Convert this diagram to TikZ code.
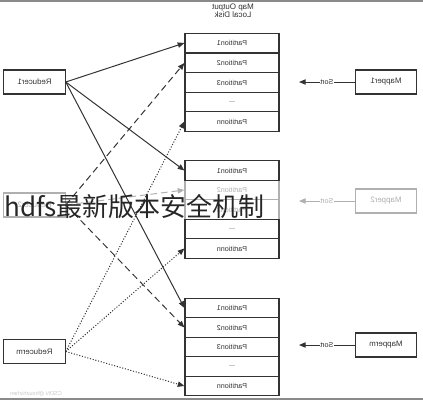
\documentclass[tikz,border=0pt]{standalone}
\usepackage{fontspec}
\setmainfont{Liberation Sans}
\newfontfamily\cjk{Noto Sans CJK SC}
\usepackage{graphicx}
\usetikzlibrary{arrows.meta}
\newcommand\mir[1]{\scalebox{-1}[1]{#1}}
\definecolor{ink}{HTML}{333333}
\definecolor{faint}{HTML}{B0B0B0}
\definecolor{rule}{HTML}{8A8A8A}
\begin{document}
\begin{tikzpicture}[x=0.75pt,y=-0.75pt,
  part/.style={draw=ink,line width=0.9pt,minimum width=70.5pt,minimum height=14.7pt,inner sep=0pt,font=\fontsize{5.4}{6}\selectfont,text=ink},
  gpart/.style={part,draw=faint,text=faint},
  box/.style={draw=ink,line width=0.9pt,minimum width=46pt,minimum height=18pt,inner sep=0pt,font=\fontsize{5.9}{6}\selectfont,text=ink},
  gbox/.style={box,draw=faint,text=faint},
  conn/.style={ink,line width=0.75pt,-{Triangle[length=5pt,width=4pt]}},
  dsh/.style={conn,dash pattern=on 5pt off 3pt},
  dot/.style={conn,dash pattern=on 0.8pt off 1.3pt},
  sortl/.style={fill=white,inner sep=0.5pt,font=\fontsize{5.4}{6}\selectfont}
]
\useasboundingbox (0,0) rectangle (423,400);
\draw[rule,line width=1.2pt] (0,1) -- (423,1);
\draw[rule,line width=1.2pt] (0,399) -- (423,399);

\node[font=\fontsize{6}{6}\selectfont,text=ink,align=center] (title) at (233,11) {\mir{Map Output}\\[0pt]\mir{Local Disk}};

% stack 1
\node[part] (a1) at (232,43) {\mir{Partition1}};
\node[part] (a2) at (232,63) {\mir{Partition2}};
\node[part] (a3) at (232,82.5) {\mir{Partition3}};
\node[part] (a4) at (232,102) {\mir{...}};
\node[part] (a5) at (232,121.5) {\mir{Partitionn}};
% stack 2
\node[gpart] (b2) at (232,190) {\mir{Partition2}};
\node[gpart] (b3) at (232,209.5) {\mir{Partition3}};
\node[part] (b1) at (232,170.5) {\mir{Partition1}};
\node[part] (b4) at (232,229) {\mir{...}};
\node[part] (b5) at (232,248.5) {\mir{Partitionn}};
% stack 3
\node[part] (c1) at (232,308) {\mir{Partition1}};
\node[part] (c2) at (232,327.5) {\mir{Partition2}};
\node[part] (c3) at (232,347) {\mir{Partition3}};
\node[part] (c4) at (232,366.5) {\mir{...}};
\node[part] (c5) at (232,386) {\mir{Partitionn}};

% reducers
\node[box] (r1) at (34.5,82) {\mir{Reducer1}};
\node[gbox] (r2) at (34.5,205) {\mir{Reducer2}};
\node[box] (rm) at (34.5,351.5) {\mir{Reducerm}};

% mappers
\node[box] (m1) at (386,82) {\mir{Mapper1}};
\node[gbox] (m2) at (386,201) {\mir{Mapper2}};
\node[box] (mm) at (386,345) {\mir{Mapperm}};

% sort arrows
\coordinate (s1) at (299,82);
\coordinate (s2) at (299,201);
\coordinate (sm) at (299,345);
\draw[conn] (m1.west) -- node[sortl,text=ink]{\mir{Sort}} (s1);
\draw[conn,faint] (m2.west) -- node[sortl,text=faint]{\mir{Sort}} (s2);
\draw[conn] (mm.west) -- node[sortl,text=ink]{\mir{Sort}} (sm);

% reducer1 solid
\draw[conn] (r1.east) -- (a1.west);
\draw[conn] (r1.east) -- (b1.west);
\draw[conn] (r1.east) -- (c1.west);
% reducer2 dashed
\draw[dsh] (r2.east) -- (a2.west);
\draw[dsh,faint] (r2.east) -- (b2.west);
\draw[dsh] (r2.east) -- (c2.west);
% reducerm dotted
\draw[dot] (rm.east) -- (a5.west);
\draw[dot] (rm.east) -- (b5.west);
\draw[dot] (rm.east) -- (c5.west);

% watermarks
\node[text=faint!70,font=\fontsize{4.2}{5}\selectfont] (wm) at (36,394) {\mir{CSDN @houzhizhen}};
\node[font=\cjk\fontsize{19.5}{21}\selectfont,anchor=west,inner sep=0pt,text=black!85] (ov) at (4,207) {hdfs最新版本安全机制};
\end{tikzpicture}
\end{document}
